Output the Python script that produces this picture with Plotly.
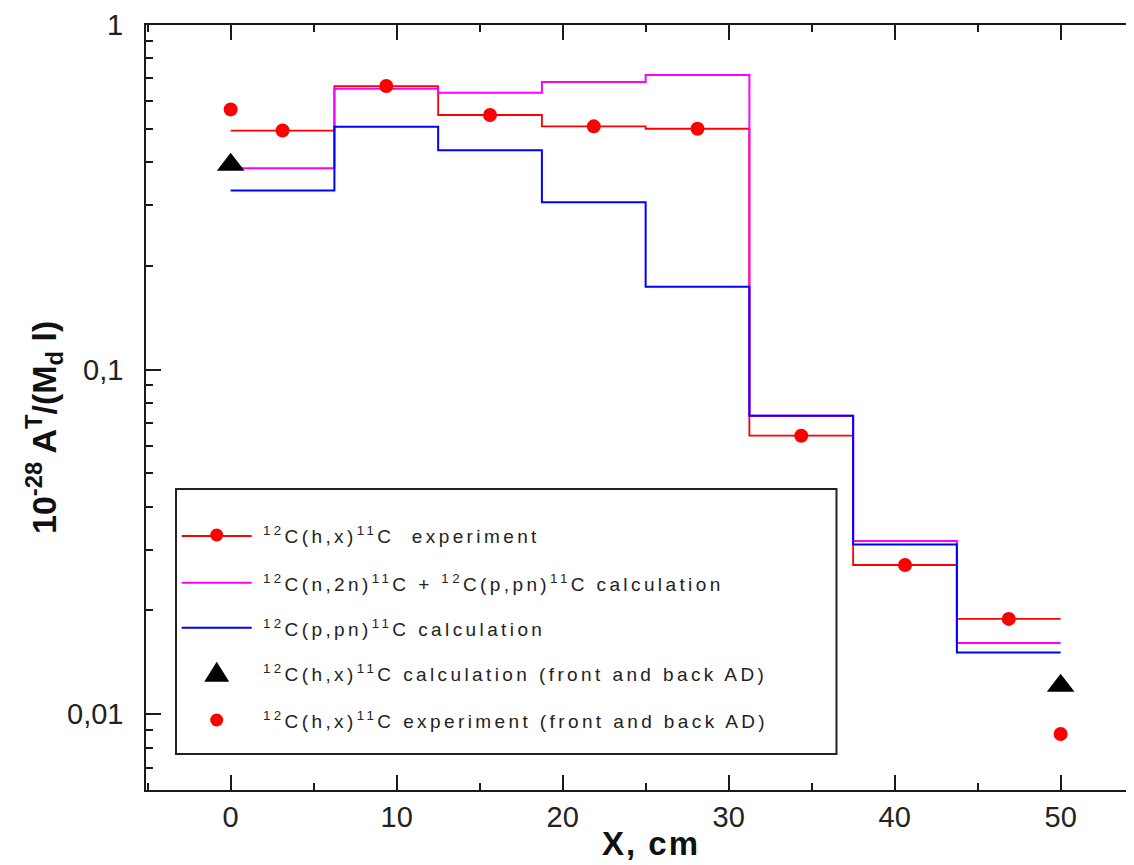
import math
import plotly.graph_objects as go

# ---------------- data ----------------
bin_edges_cm = [0, 6.25, 12.5, 18.75, 25, 31.25, 37.5, 43.75, 50]
bin_centers_cm = [3.125, 9.375, 15.625, 21.875, 28.125, 34.375, 40.625, 46.875]
exp_values = [0.494, 0.665, 0.548, 0.508, 0.500, 0.0643, 0.0271, 0.0189]
calc_np_pn_values = [0.384, 0.653, 0.636, 0.683, 0.716, 0.0735, 0.0318, 0.0161]
calc_p_pn_values = [0.331, 0.507, 0.433, 0.306, 0.174, 0.0735, 0.0311, 0.0151]
ad_positions_cm = [0, 50]
ad_calc_values = [0.393, 0.0121]
ad_exp_values = [0.569, 0.00876]

x_tick_vals = [0, 10, 20, 30, 40, 50]
x_tick_text = ["0", "10", "20", "30", "40", "50"]
y_tick_vals = [0.01, 0.1, 1]
y_tick_text = ["0,01", "0,1", "1"]

legend_labels = [
    "<sup>12</sup>C(h,x)<sup>11</sup>C\u00a0\u00a0experiment",
    "<sup>12</sup>C(n,2n)<sup>11</sup>C + <sup>12</sup>C(p,pn)<sup>11</sup>C calculation",
    "<sup>12</sup>C(p,pn)<sup>11</sup>C calculation",
    "<sup>12</sup>C(h,x)<sup>11</sup>C calculation (front and back AD)",
    "<sup>12</sup>C(h,x)<sup>11</sup>C experiment (front and back AD)",
]

RED, MAGENTA, BLUE, BLACK = "#FF0000", "#FF00FF", "#0000FF", "#000000"
AXIS = "#1a1a1a"
FONT = "Liberation Sans, Arial, sans-serif"

# ---------------- layout geometry ----------------
# the page body has an 8px margin, so the figure is 8px smaller than the window
PAGE = 8
W, H = 1134 - PAGE, 865 - PAGE
ML, MR, MT, MB = 146 - PAGE, 0, 25 - PAGE, 75


def px(xp):
    """window pixel x -> paper fraction"""
    return (xp - PAGE - ML) / (W - ML - MR)


def py(yp):
    """window pixel y -> paper fraction"""
    return (H - MB - (yp - PAGE)) / (H - MT - MB)


def steps(values):
    return values + [values[-1]]


fig = go.Figure()

fig.add_trace(go.Scatter(x=bin_edges_cm, y=steps(exp_values), mode="lines",
                         line=dict(color=RED, width=1.8, shape="hv"),
                         showlegend=False, hoverinfo="skip"))
fig.add_trace(go.Scatter(x=bin_edges_cm, y=steps(calc_np_pn_values), mode="lines",
                         line=dict(color=MAGENTA, width=2, shape="hv"),
                         showlegend=False, hoverinfo="skip"))
fig.add_trace(go.Scatter(x=bin_edges_cm, y=steps(calc_p_pn_values), mode="lines",
                         line=dict(color=BLUE, width=2, shape="hv"),
                         showlegend=False, hoverinfo="skip"))
fig.add_trace(go.Scatter(x=bin_centers_cm, y=exp_values, mode="markers",
                         marker=dict(color=RED, size=14, symbol="circle"),
                         showlegend=False))
fig.add_trace(go.Scatter(x=ad_positions_cm, y=ad_exp_values, mode="markers",
                         marker=dict(color=RED, size=14, symbol="circle"),
                         showlegend=False))
fig.add_trace(go.Scatter(x=ad_positions_cm, y=ad_calc_values, mode="markers",
                         marker=dict(color=BLACK, size=24, symbol="triangle-up"),
                         showlegend=False))

# ---------------- hand-built legend ----------------
row_y = [536, 582.7, 627.7, 671.7, 720]
text_y = [538.3, 585.8, 630.8, 675.8, 722.5]
shapes = [dict(type="rect", xref="paper", yref="paper",
               x0=px(176), x1=px(836.5), y0=py(754), y1=py(489),
               line=dict(color="#222222", width=2), fillcolor="white", layer="above")]
for yy, col, wd in [(row_y[0], RED, 1.8), (row_y[1], MAGENTA, 2), (row_y[2], BLUE, 2)]:
    shapes.append(dict(type="line", xref="paper", yref="paper",
                       x0=px(181.7), x1=px(251.7), y0=py(yy), y1=py(yy),
                       line=dict(color=col, width=wd), layer="above"))
for yy in [row_y[0] - 1, row_y[4]]:
    shapes.append(dict(type="circle", xref="paper", yref="paper",
                       xsizemode="pixel", ysizemode="pixel",
                       xanchor=px(216.7), yanchor=py(yy),
                       x0=-6.5, x1=6.5, y0=-6.5, y1=6.5,
                       fillcolor=RED, line=dict(width=0), layer="above"))
shapes.append(dict(type="path", xref="paper", yref="paper",
                   xsizemode="pixel", ysizemode="pixel",
                   xanchor=px(216.7), yanchor=py(row_y[3]),
                   path="M-12.5,-10 L12.5,-10 L0,10 Z",
                   fillcolor=BLACK, line=dict(width=0), layer="above"))

annotations = []
for lab, ty in zip(legend_labels, text_y):
    annotations.append(dict(
        xref="paper", yref="paper", x=px(261), y=py(ty - 3),
        xanchor="left", yanchor="middle", showarrow=False,
        text='<span style="letter-spacing:3.4px">' + lab + "</span>",
        font=dict(family=FONT, size=19, color="#222222")))

# y tick labels (placed 24px left of the axis, as in the reference)
for v, t in zip(y_tick_vals, y_tick_text):
    annotations.append(dict(
        xref="paper", yref="y", x=px(125), y=math.log10(v),
        xanchor="right", yanchor="middle", showarrow=False, text=t,
        font=dict(family=FONT, size=29, color="#222222")))

# axis titles as annotations for exact placement
annotations.append(dict(
    xref="paper", yref="paper", x=px(44), y=py(428),
    xanchor="center", yanchor="middle", showarrow=False, textangle=-90,
    text="<b>10<sup>-28</sup> A<sup>T</sup>/(M<sub>d</sub> l)</b>",
    font=dict(family=FONT, size=34, color="#111111")))
annotations.append(dict(
    xref="paper", yref="paper", x=px(651), y=py(843),
    xanchor="center", yanchor="middle", showarrow=False,
    text='<span style="letter-spacing:2px"><b>X, cm</b></span>',
    font=dict(family=FONT, size=33, color="#111111")))

y_minor = [k * 10 ** e for e in (-3, -2, -1) for k in range(2, 10)]

fig.update_layout(
    width=W, height=H,
    margin=dict(l=ML, r=MR, t=MT, b=MB, pad=0),
    paper_bgcolor="white", plot_bgcolor="white",
    showlegend=False,
    shapes=shapes, annotations=annotations,
    xaxis=dict(range=[-5.1, 54.42], showgrid=False, zeroline=False,
               showline=True, linecolor=AXIS, linewidth=2, mirror="ticks",
               ticks="inside", ticklen=15, tickwidth=2, tickcolor=AXIS,
               tickmode="array", tickvals=x_tick_vals, ticktext=x_tick_text,
               tickfont=dict(family=FONT, size=29, color="#222222"),
               minor=dict(ticks="inside", ticklen=7, tickwidth=2, tickcolor=AXIS, dtick=5,
                          showgrid=False)),
    yaxis=dict(type="log", range=[-2.22, 0], showgrid=False, zeroline=False,
               showline=True, linecolor=AXIS, linewidth=2, mirror=False,
               ticks="inside", ticklen=15, tickwidth=2, tickcolor=AXIS,
               tickmode="array", tickvals=y_tick_vals, ticktext=y_tick_text,
               showticklabels=False,
               minor=dict(ticks="inside", ticklen=7, tickwidth=2, tickcolor=AXIS,
                          tickmode="array", tickvals=y_minor, showgrid=False)),
)

fig.write_html("out.html", config={"displayModeBar": False})
